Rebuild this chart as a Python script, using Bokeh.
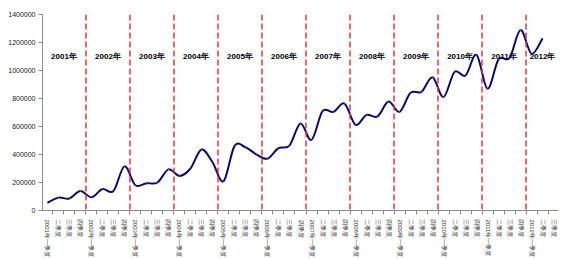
import math
from bokeh.plotting import figure
from bokeh.models import Range1d, FixedTicker, Span, NumeralTickFormatter, ColumnDataSource
from bokeh.core.properties import value
from bokeh.embed import file_html
from bokeh.resources import INLINE

# ---- data ----
years = [2001, 2002, 2003, 2004, 2005, 2006, 2007, 2008, 2009, 2010, 2011, 2012]
quarters_per_year = [4, 4, 4, 4, 4, 4, 4, 4, 4, 4, 4, 3]
quarter_names = ["一季度", "二季度", "三季度", "四季度"]
values = [
    55000, 92000, 86000, 140000,
    94000, 153000, 139000, 315000,
    180000, 195000, 200000, 294000,
    247000, 300000, 436000, 345000,
    209000, 460000, 452000, 400000,
    370000, 445000, 464000, 622000,
    504000, 709000, 704000, 764000,
    612000, 683000, 672000, 778000,
    704000, 841000, 848000, 952000,
    810000, 990000, 964000, 1112000,
    870000, 1080000, 1090000, 1289000,
    1119000, 1230000,
]
y_ticks = [0, 200000, 400000, 600000, 800000, 1000000, 1200000, 1400000]

# tick labels for every category
cat_labels = []
for yr, nq in zip(years, quarters_per_year):
    for q in range(nq):
        cat_labels.append((f"{yr}年" if q == 0 else "") + quarter_names[q])
n_cat = len(cat_labels)

# ---- figure ----
p = figure(width=563, height=259, output_backend="svg", toolbar_location=None,
           x_range=Range1d(-0.45, n_cat - 0.55), y_range=Range1d(0, 1400000),
           min_border_left=42, min_border_right=5, min_border_top=14, min_border_bottom=47)
p.outline_line_color = None
p.background_fill_color = "white"
p.border_fill_color = "white"
p.xgrid.visible = False
p.ygrid.ticker = FixedTicker(ticks=[y_ticks[-1]])
p.ygrid.grid_line_color = "#8c8c8c"

axis_col = "#8c8c8c"
font = "Liberation Sans"

p.yaxis.ticker = FixedTicker(ticks=y_ticks)
p.yaxis.formatter = NumeralTickFormatter(format="0")
p.yaxis.axis_line_color = axis_col
p.yaxis.major_tick_line_color = axis_col
p.yaxis.major_tick_out = 4
p.yaxis.major_tick_in = 0
p.yaxis.minor_tick_line_color = None
p.yaxis.major_label_text_font_size = "7px"
p.yaxis.major_label_text_font = font
p.yaxis.major_label_text_color = "#222222"
p.yaxis.major_label_standoff = 3

p.xaxis.ticker = FixedTicker(ticks=list(range(n_cat)),
                             minor_ticks=[i - 0.5 for i in range(n_cat + 1)])
p.xaxis.major_label_overrides = {i: lab for i, lab in enumerate(cat_labels)}
p.xaxis.axis_line_color = axis_col
p.xaxis.major_tick_line_color = None
p.xaxis.minor_tick_line_color = axis_col
p.xaxis.minor_tick_out = 4
p.xaxis.minor_tick_in = 0
p.xaxis.major_label_orientation = -math.pi / 2
p.xaxis.major_label_text_font_size = "6px"
p.xaxis.major_label_text_font = font
p.xaxis.major_label_text_color = "#333333"
p.xaxis.major_label_standoff = 3

# year dividers (boundary between Q4 and next Q1)
starts = []
s = 0
for nq in quarters_per_year:
    starts.append(s)
    s += nq
for st in starts[1:]:
    p.add_layout(Span(location=st - 0.5, dimension="height", line_color="#E8343C",
                      line_width=1.5, line_dash="6 3"))

# year labels
year_x = [st + (nq - 1) / 2 for st, nq in zip(starts, quarters_per_year)]
year_txt = [f"{yr}年" for yr in years]
p.text(x=year_x, y=[1100000] * len(years), text=year_txt,
       text_font=value(font), text_font_size="8px", text_font_style="bold",
       text_align="center", text_baseline="middle", text_color="black")

# smooth curve: cubic bezier segments through the data points
n = len(values)
xs = list(range(n))
x0, y0, x1, y1, cx0, cy0, cx1, cy1 = [], [], [], [], [], [], [], []
for i in range(n - 1):
    xm = xs[max(i - 1, 0)]; ym = values[max(i - 1, 0)]
    xa = xs[i]; ya = values[i]
    xb = xs[i + 1]; yb = values[i + 1]
    xp = xs[min(i + 2, n - 1)]; yp = values[min(i + 2, n - 1)]
    x0.append(xa); y0.append(ya); x1.append(xb); y1.append(yb)
    cx0.append(xa + (xb - xm) / 6); cy0.append(ya + (yb - ym) / 6)
    cx1.append(xb - (xp - xa) / 6); cy1.append(yb - (yp - ya) / 6)
src = ColumnDataSource(dict(x0=x0, y0=y0, x1=x1, y1=y1, cx0=cx0, cy0=cy0, cx1=cx1, cy1=cy1))
p.bezier(x0="x0", y0="y0", x1="x1", y1="y1", cx0="cx0", cy0="cy0", cx1="cx1", cy1="cy1",
         source=src, line_color="#0a0a6e", line_width=2)

open("out.html", "w").write(file_html(p, INLINE))
